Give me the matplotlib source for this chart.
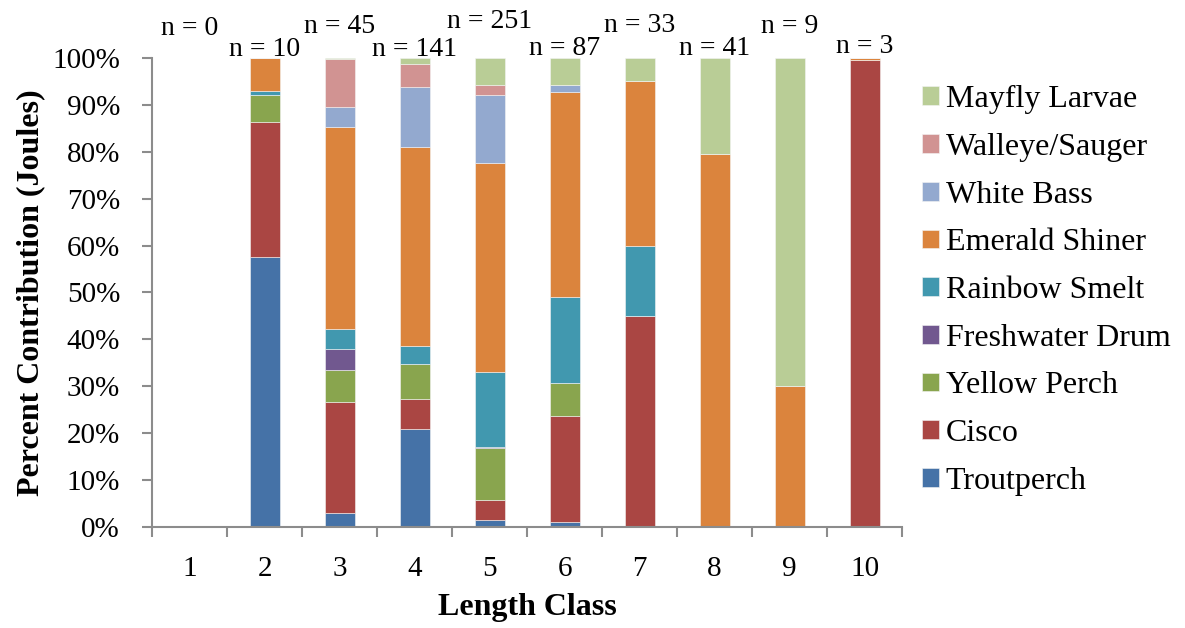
import numpy as np
import matplotlib
matplotlib.use("Agg")
import matplotlib.pyplot as plt

plt.rcParams['font.family'] = ['Liberation Serif', 'DejaVu Serif']

# length classes and sample sizes
classes = [1, 2, 3, 4, 5, 6, 7, 8, 9, 10]
n_fish = [0, 10, 45, 141, 251, 87, 33, 41, 9, 3]

# percent contribution (joules) of each prey, bottom to top
troutperch = [0, 57.5, 2.9, 20.8, 1.4, 0.9, 0, 0, 0, 0]
cisco = [0, 29.0, 23.8, 6.5, 4.2, 22.8, 45.0, 0, 0, 99.6]
yellow_perch = [0, 5.7, 6.7, 7.4, 11.1, 7.0, 0, 0, 0, 0]
freshwater_drum = [0, 0, 4.6, 0, 0.3, 0, 0, 0, 0, 0]
rainbow_smelt = [0, 0.8, 4.2, 3.9, 16.1, 18.3, 14.9, 0, 0, 0]
emerald_shiner = [0, 7.0, 43.2, 42.5, 44.5, 43.7, 35.3, 79.6, 30.0, 0.4]
white_bass = [0, 0, 4.1, 12.7, 14.6, 1.5, 0, 0, 0, 0]
walleye_sauger = [0, 0, 10.3, 5.0, 2.0, 0, 0, 0, 0, 0]
mayfly = [0, 0, 0.2, 1.2, 5.8, 5.8, 4.8, 20.4, 70.0, 0]

prey = [
    ("Troutperch", troutperch, "#4572A7"),
    ("Cisco", cisco, "#AA4643"),
    ("Yellow Perch", yellow_perch, "#89A54E"),
    ("Freshwater Drum", freshwater_drum, "#71588F"),
    ("Rainbow Smelt", rainbow_smelt, "#4198AF"),
    ("Emerald Shiner", emerald_shiner, "#DB843D"),
    ("White Bass", white_bass, "#93A9CF"),
    ("Walleye/Sauger", walleye_sauger, "#D19392"),
    ("Mayfly Larvae", mayfly, "#B9CD96"),
]

fig = plt.figure(figsize=(11.85, 6.28), dpi=100)
ax = fig.add_axes([0.1283, 0.1613, 0.6329, 0.7459])

x = np.array(classes)
bottom = np.zeros(len(classes))
handles = []
for name, vals, col in prey:
    vals = np.array(vals, dtype=float)
    b = ax.bar(x, vals, width=0.4, bottom=bottom, color=col,
               edgecolor="#f4f4f4", linewidth=0.4, label=name)
    handles.append(b)
    bottom += vals

# sample size labels above the bars, staggered so they don't overlap
label_base = [105.0, 100.5, 105.3, 100.5, 106.4, 100.7, 105.7, 100.7, 105.3, 101.1]
for xi, n, yy in zip(x, n_fish, label_base):
    ax.text(xi, yy, "n = %d" % n, ha="center", va="baseline",
            fontsize=20, clip_on=False)

ax.set_xlim(0.5, 10.5)
ax.set_ylim(0, 100)
ax.set_yticks(np.arange(0, 101, 10))
ax.set_yticklabels(["%d%%" % v for v in range(0, 101, 10)])
ax.set_xticks(np.arange(0.5, 10.6, 1))
ax.set_xticklabels([])
ax.set_xticks(x, minor=True)
ax.set_xticklabels([str(c) for c in classes], minor=True)

for s in ["top", "right"]:
    ax.spines[s].set_visible(False)
for s in ["left", "bottom"]:
    ax.spines[s].set_color("#8c8c8c")
    ax.spines[s].set_linewidth(1.5)

ax.tick_params(axis="y", which="major", direction="out", length=7, width=1.5,
               color="#8c8c8c", labelsize=21, pad=16)
ax.tick_params(axis="x", which="major", direction="out", length=7, width=1.5,
               color="#8c8c8c")
ax.tick_params(axis="x", which="minor", length=0, labelsize=21, pad=21)

ax.set_xlabel("Length Class", fontsize=23, fontweight="bold", labelpad=8)
ax.set_ylabel("Percent Contribution (Joules)", fontsize=23, fontweight="bold", labelpad=5)

fig.legend(handles[::-1], [p[0] for p in prey][::-1], loc="center left",
           bbox_to_anchor=(0.778, 0.5375), frameon=False, fontsize=23,
           handlelength=0.53, handleheight=0.53, handletextpad=0.22,
           labelspacing=0.585, borderpad=0, borderaxespad=0)

fig.savefig("out.png", dpi=100)
